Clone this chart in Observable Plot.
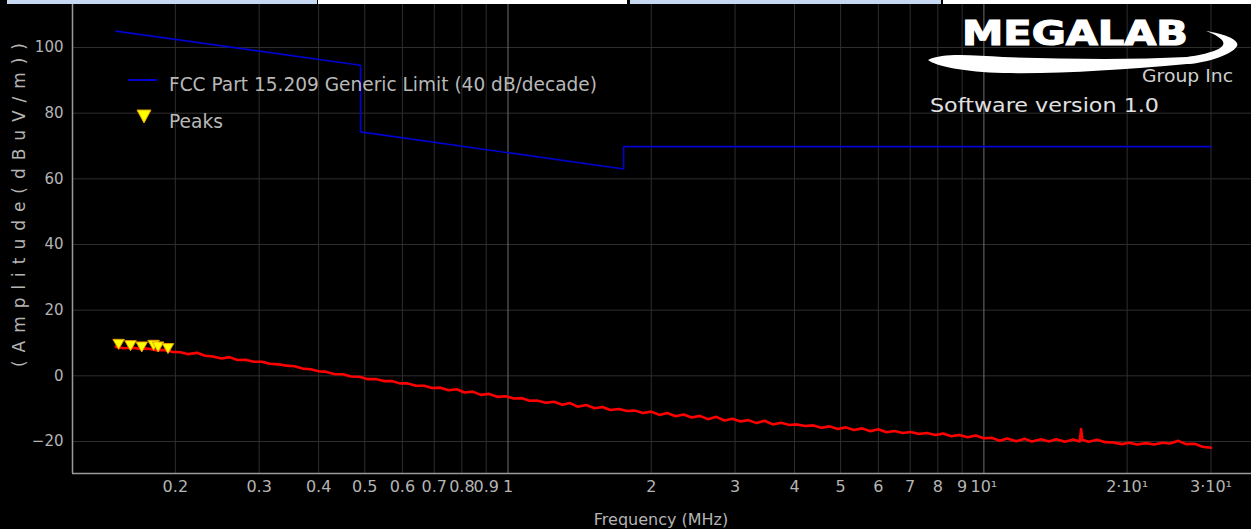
<!DOCTYPE html>
<html><head><meta charset="utf-8">
<script src="https://cdn.jsdelivr.net/npm/d3@7"></script>
<script src="https://cdn.jsdelivr.net/npm/@observablehq/plot@0.6"></script>
<style>
html,body{margin:0;padding:0;background:#000;}
#wrap{position:relative;width:1251px;height:529px;overflow:hidden;background:#000;font-family:"DejaVu Sans",sans-serif;}
#strip{position:absolute;left:0;top:0;width:1251px;height:4px;background:#000;}
#strip div{position:absolute;top:0;height:4px;}
#chart{position:absolute;left:0;top:4px;}
#overlay{position:absolute;left:0;top:0;pointer-events:none;}
#chart svg g[aria-label="y-axis tick label"] text{font-size:15px;}
</style></head><body>
<div id="wrap">
 <div id="strip">
  <div style="left:7px;width:310px;background:#c6d9f1"></div>
  <div style="left:318px;width:309px;background:#ffffff"></div>
  <div style="left:630px;width:311px;background:#c6d9f1"></div>
  <div style="left:943px;width:308px;background:#ffffff"></div>
 </div>
 <div id="chart"></div>
 <svg id="overlay" width="1251" height="529" font-family="DejaVu Sans">
  <line x1="128" y1="80" x2="157" y2="80" stroke="#0000d0" stroke-width="2"/>
  <text x="169" y="91" font-size="19.5" fill="#b8b8b8" textLength="428" lengthAdjust="spacingAndGlyphs">FCC Part 15.209 Generic Limit (40 dB/decade)</text>
  <path d="M137,110 L151,110 L144,123 Z" fill="#ffff00" stroke="#e6a000" stroke-width="1"/>
  <text x="169" y="128" font-size="19.5" fill="#b8b8b8" textLength="54" lengthAdjust="spacingAndGlyphs">Peaks</text>
  <path d="M928,60 C945,52 975,56 1003,57 C1060,59 1130,60 1187,57 C1215,53 1228,47 1222,40 C1218,36 1212,33 1206,31 C1225,34 1240,40 1237,46 C1232,56 1200,64 1187,64 C1120,70 1060,74 1003,73 C965,72 935,66 928,60 Z" fill="#ffffff"/>
  <text x="962" y="45" font-size="34" font-weight="bold" fill="#ffffff" stroke="#ffffff" stroke-width="1.2" textLength="226" lengthAdjust="spacingAndGlyphs">MEGALAB</text>
  <text x="1142" y="82" font-size="17" fill="#d0d0d0" textLength="91" lengthAdjust="spacingAndGlyphs">Group Inc</text>
  <text x="930" y="112" font-size="20" fill="#e0e0e0" textLength="229" lengthAdjust="spacingAndGlyphs">Software version 1.0</text>
  <text transform="translate(25,205) rotate(-90)" text-anchor="middle" font-size="17" fill="#b4b4b4" textLength="324" lengthAdjust="spacing">(Amplitude(dBuV/m))</text>
  <text x="661" y="525" text-anchor="middle" font-size="16" fill="#b4b4b4">Frequency (MHz)</text>
 </svg>
</div>
<script>
// ---- data ----
const xTicks = [0.2,0.3,0.4,0.5,0.6,0.7,0.8,0.9,1,2,3,4,5,6,7,8,9,10,20,30];
const xTickLabels = ["0.2","0.3","0.4","0.5","0.6","0.7","0.8","0.9","1","2","3","4","5","6","7","8","9","10¹","2·10¹","3·10¹"];
const majorFreqs = [1,10];
const yTicks = [-20,0,20,40,60,80,100];
const xDomain = [0.1216, 36.5];
const yDomain = [-29.75, 113.1];

const limitFreq = [0.15, 0.49, 0.49, 1.75, 1.75, 30];
const limitAmp  = [105.0, 94.6, 74.3, 63.0, 69.8, 69.8];

const peakFreq = [0.152, 0.161, 0.170, 0.180, 0.184, 0.193];
const peakAmp  = [10.1, 9.7, 9.3, 9.8, 9.3, 8.8];

const traceFreq = [0.150,0.156,0.162,0.169,0.175,0.182,0.190,0.197,0.205,0.213,
 0.222,0.231,0.240,0.250,0.260,0.270,0.281,0.292,0.304,0.316,
 0.329,0.342,0.356,0.370,0.385,0.400,0.416,0.433,0.450,0.468,
 0.487,0.506,0.527,0.548,0.570,0.592,0.616,0.641,0.666,0.693,
 0.721,0.750,0.780,0.811,0.843,0.877,0.912,0.949,0.987,1.03,
 1.07,1.11,1.15,1.20,1.25,1.30,1.35,1.40,1.46,1.52,
 1.58,1.64,1.71,1.78,1.85,1.92,2.00,2.08,2.16,2.25,
 2.34,2.43,2.53,2.63,2.74,2.85,2.96,3.08,3.20,3.33,
 3.46,3.60,3.75,3.90,4.05,4.21,4.38,4.56,4.74,4.93,
 5.13,5.33,5.55,5.77,6.00,6.24,6.49,6.75,7.02,7.30,
 7.59,7.90,8.21,8.54,8.88,9.24,9.61,9.99,10.4,10.8,
 11.2,11.7,12.2,12.6,13.2,13.7,14.2,14.8,15.4,15.9,
 16.0,16.1,16.6,17.3,18.0,18.7,19.5,20.2,21.0,21.9,
 22.8,23.7,24.6,25.6,26.6,27.7,28.8,30.0];
const traceAmp = [8.8,8.4,8.6,8.2,8.3,7.8,7.9,7.3,7.2,6.6,
 7.0,6.1,5.9,5.3,5.7,4.8,4.9,4.3,4.3,3.7,
 3.5,3.1,2.9,2.2,2.0,1.4,1.2,0.5,0.5,-0.2,
 -0.3,-1.0,-1.0,-1.6,-1.6,-2.3,-2.3,-3.0,-3.0,-3.7,
 -3.6,-4.4,-4.1,-5.1,-4.8,-5.8,-5.5,-6.4,-6.2,-6.9,
 -6.8,-7.6,-7.5,-8.2,-7.9,-8.8,-8.3,-9.4,-8.9,-9.9,
 -9.5,-10.4,-10.1,-10.7,-10.6,-11.3,-10.9,-11.9,-11.3,-12.3,
 -11.8,-12.7,-12.2,-13.2,-12.5,-13.6,-13.1,-13.9,-13.5,-14.4,
 -13.7,-14.8,-14.3,-15.0,-14.8,-15.3,-15.1,-15.8,-15.4,-16.2,
 -15.7,-16.5,-16.0,-16.9,-16.3,-17.2,-16.8,-17.4,-17.1,-17.7,
 -17.4,-18.0,-17.6,-18.4,-18.0,-18.7,-18.2,-19.0,-18.9,-19.8,
 -19.1,-19.9,-19.2,-20.0,-19.3,-20.0,-19.3,-20.1,-19.4,-20.0,
 -16.2,-19.5,-20.1,-19.5,-20.2,-20.3,-20.8,-20.4,-20.9,-20.5,
 -20.9,-20.4,-20.6,-19.8,-20.8,-20.7,-21.6,-21.9];

// ---- build tables ----
const gridFreqs = xTicks.filter(t => !majorFreqs.includes(t));
const limit = limitFreq.map((f, i) => ({f, a: limitAmp[i]}));
const peaks = peakFreq.map((f, i) => ({f, a: peakAmp[i]}));
const trace = traceFreq.map((f, i) => ({f, a: traceAmp[i]}));
const tickRows = xTicks.map((t, i) => ({t, label: xTickLabels[i]}));

const chart = Plot.plot({
  width: 1251, height: 525,
  marginLeft: 72, marginRight: 0, marginTop: 0, marginBottom: 56,
  style: {background: "#000", color: "#b4b4b4", fontFamily: "DejaVu Sans", fontSize: "16px", overflow: "visible"},
  x: {type: "log", domain: xDomain, axis: null},
  y: {domain: yDomain, ticks: yTicks, tickSize: 0, tickPadding: 9, label: null},
  marks: [
    Plot.ruleX(gridFreqs, {stroke: "#2e2e2e"}),
    Plot.ruleY(yTicks, {stroke: "#2e2e2e"}),
    Plot.ruleX(majorFreqs, {stroke: "#6e6e6e"}),
    Plot.ruleX([xDomain[0]], {stroke: "#9a9a9a", strokeWidth: 1.5}),
    Plot.ruleY([yDomain[0]], {stroke: "#9a9a9a", strokeWidth: 1.5}),
    Plot.text(tickRows, {x: "t", text: "label", frameAnchor: "bottom", dy: 18, fill: "#b4b4b4", fontSize: 16}),
    Plot.line(limit, {x: "f", y: "a", stroke: "#0000d0", strokeWidth: 1.6}),
    Plot.line(trace, {x: "f", y: "a", stroke: "#ff0000", strokeWidth: 2.6}),
    Plot.dot(peaks, {x: "f", y: "a", symbol: "triangle", rotate: 180, r: 4.3, fill: "#ffff00", stroke: "#e6a000", strokeWidth: 1})
  ]
});
document.getElementById("chart").appendChild(chart);
</script>
</body></html>
